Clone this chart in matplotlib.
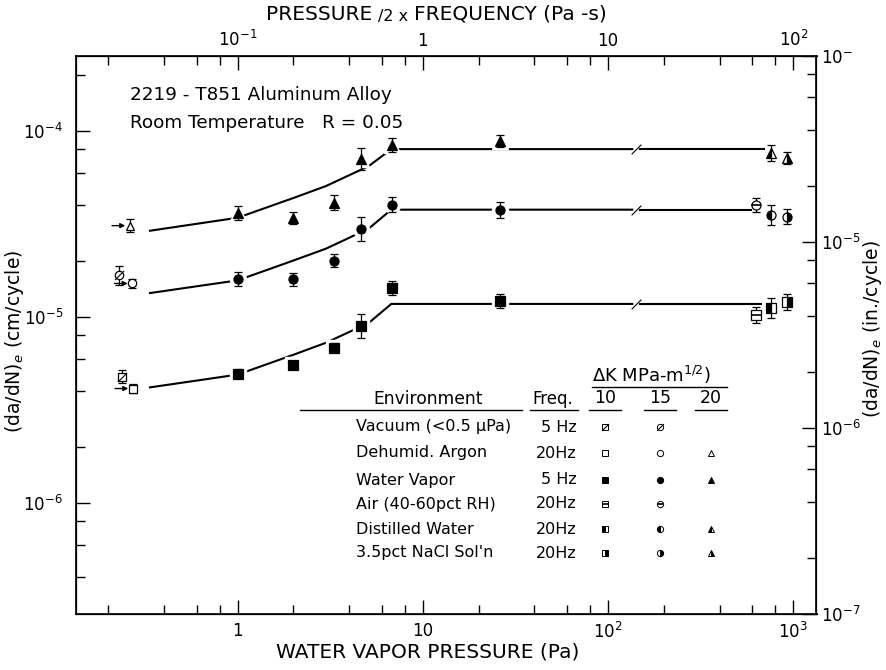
import numpy as np
import matplotlib.pyplot as plt
from matplotlib.lines import Line2D
from matplotlib.path import Path
from matplotlib.ticker import FixedLocator, NullFormatter

plt.rcParams['font.family'] = ['DejaVu Sans']
plt.rcParams['mathtext.fontset'] = 'dejavusans'

# ---- data (Pa, cm/cycle) ----
dk_levels = [10, 15, 20]
shapes = ['s', 'o', '^']

# water vapor, 5 Hz
wv_pressure = [1.0, 2.0, 3.33, 4.65, 6.83, 26.0]
wv_rate = {
    10: [4.98e-6, 5.56e-6, 6.86e-6, 9.0e-6, 1.43e-5, 1.22e-5],
    15: [1.60e-5, 1.60e-5, 2.02e-5, 3.0e-5, 4.03e-5, 3.78e-5],
    20: [3.65e-5, 3.43e-5, 4.13e-5, 7.1e-5, 8.4e-5, 8.85e-5],
}
wv_err = {
    10: [0.06, 0.04, 0.06, 0.16, 0.09, 0.09],
    15: [0.09, 0.08, 0.09, 0.16, 0.10, 0.10],
    20: [0.09, 0.08, 0.10, 0.14, 0.09, 0.08],
}

# 20 Hz tests in air / distilled water / NaCl (right side)
other_env = ['air', 'distilled', 'nacl']
other_pressure = {'air': 625.0, 'distilled': 760.0, 'nacl': 920.0}
other_rate = {
    'air': {10: 1.03e-5, 15: 4.03e-5},
    'distilled': {10: 1.12e-5, 15: 3.56e-5, 20: 7.63e-5},
    'nacl': {10: 1.21e-5, 15: 3.47e-5, 20: 7.18e-5},
}
other_err = {
    'air': {10: 0.10, 15: 0.09},
    'distilled': {10: 0.13, 15: 0.13, 20: 0.10},
    'nacl': {10: 0.10, 15: 0.10, 20: 0.08},
}

# off-scale reference points (left side)
argon_pressure = {10: 0.272, 15: 0.27, 20: 0.262}
argon_rate = {10: 4.14e-6, 15: 1.52e-5, 20: 3.11e-5}
argon_err = {10: 0.06, 15: 0.06, 20: 0.08}
vacuum_pressure = {10: 0.237, 15: 0.229}
vacuum_rate = {10: 4.8e-6, 15: 1.68e-5}
vacuum_err = {10: 0.08, 15: 0.12}

# hand-drawn trend curves
curve_pressure = [0.336, 1.0, 2.0, 3.0, 5.1, 6.75]
curve_rate = {
    10: [4.20e-6, 4.92e-6, 6.29e-6, 7.30e-6, 9.33e-6, 1.18e-5],
    15: [1.35e-5, 1.58e-5, 2.02e-5, 2.34e-5, 3.00e-5, 3.79e-5],
    20: [2.92e-5, 3.43e-5, 4.38e-5, 5.08e-5, 6.50e-5, 8.02e-5],
}
curve_end = {10: 670.0, 15: 590.0, 20: 690.0}
break_at = [135.0, 148.0]

# legend table
table_env = ['vacuum', 'argon', 'wv', 'air', 'distilled', 'nacl']
table_names = ['Vacuum (<0.5 \u03bcPa)', 'Dehumid. Argon', 'Water Vapor',
               'Air (40-60pct RH)', 'Distilled Water', "3.5pct NaCl Sol'n"]
table_freq = ['5 Hz', '20Hz', '5 Hz', '20Hz', '20Hz', '20Hz']
table_dk = [[10, 15], [10, 15, 20], [10, 15, 20], [10, 15], [10, 15, 20], [10, 15, 20]]

W, H = 887, 670


def fx(px):
    return px / W


def fy(py):
    return 1 - py / H


fig = plt.figure(figsize=(W / 100, H / 100), dpi=100)
ax = fig.add_axes([fx(75.6), fy(614), (816.5 - 75.6) / W, (614 - 56) / H])
ax.set_xscale('log')
ax.set_yscale('log')

STYLE = {
    'vacuum': dict(mfc='white', mec='black'),
    'argon': dict(mfc='white', mec='black'),
    'wv': dict(mfc='black', mec='black'),
    'air': dict(mfc='white', mec='black'),
    'distilled': dict(mfc='black', mec='black', fillstyle='left', markerfacecoloralt='white'),
    'nacl': dict(mfc='black', mec='black', fillstyle='right', markerfacecoloralt='white'),
}
SLASH = Path([(-1, -1), (1, 1)], [Path.MOVETO, Path.LINETO])


def put(x, y, shape, env, ms=6.0, err=None, tr=None, halo=False, mew=0.9):
    tr = ax.transData if tr is None else tr
    if halo:
        ax.plot([x], [y], shape, ms=ms + 5, mfc='white', mec='white',
                transform=tr, zorder=2, clip_on=False)
    if err is not None:
        lo = y - y / (1 + err)
        hi = y * err
        ax.errorbar([x], [y], yerr=[[lo], [hi]], fmt='none', ecolor='black',
                    elinewidth=0.9, capsize=3, capthick=0.9, zorder=3)
    ax.plot([x], [y], shape, ms=ms, mew=mew, transform=tr, zorder=4,
            clip_on=False, **STYLE[env])
    if env == 'vacuum':
        ax.plot([x], [y], marker=SLASH, ms=ms * 1.1, mec='black', mew=0.8,
                transform=tr, zorder=5, clip_on=False)
    if env == 'air':
        ax.plot([x], [y], marker='_', ms=ms, mec='black', mew=1.2,
                transform=tr, zorder=5, clip_on=False)


# curves
for dk in dk_levels:
    xs = curve_pressure + [break_at[0]]
    ys = curve_rate[dk] + [curve_rate[dk][-1]]
    ax.plot(xs, ys, color='black', lw=1.5, zorder=1)
    ax.plot([break_at[1], curve_end[dk]], [ys[-1], ys[-1]], color='black', lw=1.5, zorder=1)
    ax.plot([np.sqrt(break_at[0] * break_at[1])], [ys[-1]], marker=SLASH, ms=7,
            mec='black', mew=0.8, zorder=1)

# water vapor points
for dk, sh in zip(dk_levels, shapes):
    for p, r, e in zip(wv_pressure, wv_rate[dk], wv_err[dk]):
        put(p, r, sh, 'wv', ms=6.5, err=e, halo=True)

# 20 Hz liquid / air points
for env in other_env:
    for dk, sh in zip(dk_levels, shapes):
        if dk in other_rate[env]:
            put(other_pressure[env], other_rate[env][dk], sh, env, ms=6.5,
                err=other_err[env][dk])

# off-scale points with arrows
for dk, sh in zip(dk_levels, shapes):
    p, r = argon_pressure[dk], argon_rate[dk]
    put(p, r, sh, 'argon', ms=6, err=argon_err[dk])
    ax.annotate('', xy=(p / 1.06, r), xytext=(p / 1.25, r),
                arrowprops=dict(arrowstyle='-|>', color='black', lw=1.0,
                                mutation_scale=7, shrinkA=0, shrinkB=0))
    if dk in vacuum_rate:
        put(vacuum_pressure[dk], vacuum_rate[dk], sh, 'vacuum', ms=6, err=vacuum_err[dk])

ax.set_xlim(0.1333, 1333)
ax.set_ylim(2.54e-7, 2.54e-4)

# axes / ticks
tick_kw = dict(direction='in', labelsize=12, width=1.0)
for s in ax.spines.values():
    s.set_linewidth(1.2)

ax.xaxis.set_major_locator(FixedLocator([1, 10, 100, 1000]))
ax.set_xticklabels(['1', '10', '$10^2$', '$10^3$'])
ax.xaxis.set_minor_locator(FixedLocator([m * d for d in [0.1, 1, 10, 100] for m in [2, 4, 6, 8]]))
ax.xaxis.set_minor_formatter(NullFormatter())
ax.yaxis.set_major_locator(FixedLocator([1e-6, 1e-5, 1e-4]))
ax.set_yticklabels(['$10^{-6}$', '$10^{-5}$', '$10^{-4}$'])
ax.yaxis.set_minor_locator(FixedLocator([m * d for d in [1e-7, 1e-6, 1e-5, 1e-4] for m in [2, 4, 6, 8]]))
ax.yaxis.set_minor_formatter(NullFormatter())
ax.tick_params(which='major', length=10, **tick_kw)
ax.tick_params(axis='y', which='major', pad=9)
ax.tick_params(axis='x', which='major', pad=6)
ax.tick_params(which='minor', length=6.5, direction='in', width=1.0)

ax_top = ax.twiny()
ax_top.set_xscale('log')
ax_top.set_xlim(0.01333, 133.3)
ax_top.xaxis.set_major_locator(FixedLocator([0.1, 1, 10, 100]))
ax_top.set_xticklabels(['$10^{-1}$', '1', '10', '$10^2$'])
ax_top.xaxis.set_minor_locator(FixedLocator([m * d for d in [0.01, 0.1, 1, 10] for m in [2, 4, 6, 8]]))
ax_top.xaxis.set_minor_formatter(NullFormatter())
ax_top.tick_params(which='major', length=10, pad=4, **tick_kw)
ax_top.tick_params(which='minor', length=6.5, direction='in', width=1.0)

ax_r = ax.twinx()
ax_r.set_yscale('log')
ax_r.set_ylim(0.9999e-7, 1.0001e-4)
ax_r.yaxis.set_major_locator(FixedLocator([1e-7, 1e-6, 1e-5, 1e-4]))
ax_r.set_yticklabels(['$10^{-7}$', '$10^{-6}$', '$10^{-5}$', '$10^{-}$'])
ax_r.yaxis.set_minor_locator(FixedLocator([m * d for d in [1e-7, 1e-6, 1e-5] for m in [2, 4, 6, 8]]))
ax_r.yaxis.set_minor_formatter(NullFormatter())
ax_r.tick_params(which='major', length=10, pad=3, **tick_kw)
ax_r.tick_params(which='minor', length=6.5, direction='in', width=1.0)

# top title in three pieces, chained left to right
renderer = fig.canvas.get_renderer()
pieces = [('PRESSURE', 14.5, 14), ('/2 x', 11.5, 17), ('FREQUENCY (Pa -s)', 14.5, 14)]
x0 = 266.0
for txt, size, py in pieces:
    t = fig.text(fx(x0), fy(py), txt, ha='left', va='center', fontsize=size)
    bb = t.get_window_extent(renderer=renderer)
    x0 = x0 + bb.width + 6

fig.text(fx(428), fy(652), 'WATER VAPOR PRESSURE (Pa)', ha='center', va='center', fontsize=14.5)
fig.text(fx(15), fy(341), '(da/dN)$_e$ (cm/cycle)', rotation=90, ha='center', va='center', fontsize=13.5)
fig.text(fx(873), fy(329), '(da/dN)$_e$ (in./cycle)', rotation=90, ha='center', va='center', fontsize=13.5)
fig.text(fx(130), fy(95), '2219 - T851 Aluminum Alloy', va='center', fontsize=13.2)
fig.text(fx(130), fy(123), 'Room Temperature   R = 0.05', va='center', fontsize=13.2)

# legend table
tf = fig.transFigure
col_x = [605, 660, 711]
row_y = [427, 453, 480, 504, 529, 553]
fig.text(fx(592), fy(375), '\u0394K MPa-m$^{1/2}$)', va='center', fontsize=13)
fig.add_artist(Line2D([fx(592), fx(727)], [fy(387), fy(387)], color='black', lw=1.0))
for dk, cx in zip(dk_levels, col_x):
    fig.text(fx(cx), fy(398), str(dk), ha='center', va='center', fontsize=12.5)
    fig.add_artist(Line2D([fx(cx - 16), fx(cx + 16)], [fy(410), fy(410)], color='black', lw=1.0))
fig.text(fx(373), fy(399), 'Environment', va='center', fontsize=12.3)
fig.text(fx(532), fy(399), 'Freq.', va='center', fontsize=12)
fig.add_artist(Line2D([fx(300), fx(522)], [fy(410), fy(410)], color='black', lw=1.0))
fig.add_artist(Line2D([fx(530), fx(578)], [fy(410), fy(410)], color='black', lw=1.0))
for name, fq, env, dks, ry in zip(table_names, table_freq, table_env, table_dk, row_y):
    fig.text(fx(356), fy(ry), name, va='center', fontsize=11.5)
    fig.text(fx(577), fy(ry), fq, va='center', ha='right', fontsize=11.5)
    for dk, sh, cx in zip(dk_levels, shapes, col_x):
        if dk in dks:
            put(fx(cx), fy(ry), sh, env, ms=4.5, tr=tf, mew=0.7)

fig.savefig('out.png', dpi=100)
